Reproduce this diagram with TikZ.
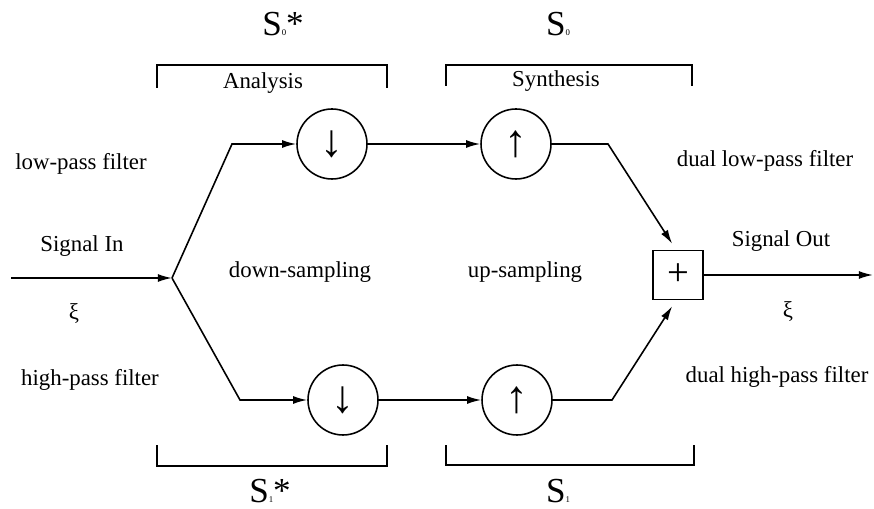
\documentclass[tikz,border=0pt]{standalone}
\usepackage{fontspec}
\setmainfont{Liberation Serif}
\usetikzlibrary{arrows.meta,calc,positioning}

\tikzset{
  sampler/.style={draw, circle, line width=0.9pt, minimum size=1.4cm, inner sep=0pt, font=\fontsize{26}{26}\selectfont},
  adder/.style={draw, rectangle, line width=0.9pt, minimum width=1cm, minimum height=0.98cm, inner sep=0pt, font=\fontsize{22}{22}\selectfont},
  lbl/.style={font=\fontsize{13}{15}\selectfont, inner sep=0pt},
  opname/.style={font=\fontsize{20}{20}\selectfont, inner sep=0pt, anchor=base},
  flow/.style={line width=0.9pt},
  bracket/.style={line width=0.7pt},
}
\newcommand{\opS}[2]{S{\fontsize{5}{5}\selectfont #1}#2}

\begin{document}
\begin{tikzpicture}[x=0.02cm, y=-0.02cm, >={Latex[length=8pt,width=4.5pt]}]
			\useasboundingbox (0,0) rectangle (874,509);

			% branch points
			\coordinate (in) at (11,278);
			\coordinate (fork) at (172,278);
			\coordinate (lowIn) at (232,144);
			\coordinate (highIn) at (240,400);
			\coordinate (lowOut) at (608,144);
			\coordinate (highOut) at (612,400);
			\coordinate (out) at (873,275);

			\node[sampler] (down0) at (332,144) {↓};
			\node[sampler] (up0) at (516,144) {↑};
			\node[sampler] (down1) at (343,400) {↓};
			\node[sampler] (up1) at (517,400) {↑};
			\node[adder] (sum) at (678,275) {+};

			\draw[flow, ->] (in) -- (fork);
			\draw[flow, ->] (fork) -- (lowIn) -- (down0);
			\draw[flow, ->] (fork) -- (highIn) -- (down1);
			\draw[flow, ->] (down0) -- (up0);
			\draw[flow, ->] (down1) -- (up1);
			\draw[flow, ->, shorten >=4pt] (up0) -- (lowOut) -- ($(sum.north)+(-2,0)$);
			\draw[flow, ->, shorten >=4pt] (up1) -- (highOut) -- ($(sum.south)+(-2,0)$);
			\draw[flow, ->] (sum) -- (out);

			\foreach \xa/\xb/\ya/\yb in {157/387/65/88, 446/692/65/86, 157/387/466/445, 446/694/465/445} {
				\draw[bracket] (\xa,\yb) |- (\xb,\ya) -- (\xb,\yb);
			}

			\node[opname] (s0star) at (283,36) {\opS{0}{*}};
			\node[opname] (s0) at (558,36) {\opS{0}{}};
			\node[opname] (s1star) at (270,502) {\opS{1}{*}};
			\node[opname] (s1) at (558,502) {\opS{1}{}};
			\node[lbl, anchor=base] (analysis) at (263,89) {Analysis};
			\node[lbl, anchor=base] (synthesis) at (556,87) {Synthesis};

			\node[lbl] (lowpass) at (81,164) {low-pass filter};
			\node[lbl] (highpass) at (90,380) {high-pass filter};
			\node[lbl] (sigin) at (82,246) {Signal In};
			\node[lbl] (xiin) at (74,314) {ξ};
			\node[lbl] (downs) at (300,272) {down-sampling};
			\node[lbl] (ups) at (525,272) {up-sampling};
			\node[lbl] (duallow) at (765,161) {dual low-pass filter};
			\node[lbl] (dualhigh) at (777,377) {dual high-pass filter};
			\node[lbl] (sigout) at (781,241) {Signal Out};
			\node[lbl] (xiout) at (788,312) {ξ};
		\end{tikzpicture}
\end{document}
